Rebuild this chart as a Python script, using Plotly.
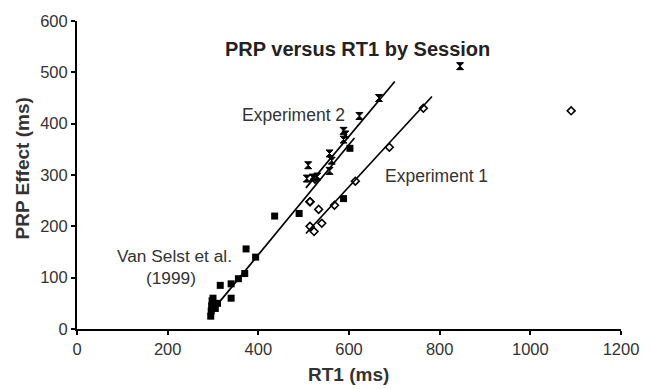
import plotly.graph_objects as go

# Van Selst et al. (1999) sessions (filled squares)
vs_rt1 = [295, 296, 297, 298, 300, 305, 310, 316, 340, 340, 356, 370, 373, 394, 436, 490, 588, 602]
vs_prp = [25, 35, 45, 55, 60, 40, 50, 85, 60, 88, 98, 108, 156, 140, 220, 225, 254, 352]

# Experiment 1 sessions (open diamonds)
e1_rt1 = [514, 523, 514, 540, 533, 514, 568, 525, 614, 689, 764, 1090]
e1_prp = [200, 190, 248, 206, 233, 248, 241, 292, 288, 354, 430, 425]

# Experiment 2 sessions (hourglass markers)
e2_rt1 = [507, 510, 520, 530, 557, 562, 557, 588, 592, 588, 623, 666, 845]
e2_prp = [293, 319, 295, 297, 308, 328, 342, 369, 379, 386, 415, 450, 512]

# regression lines (end points)
vs_fit_x = [293, 612]
vs_fit_y = [30, 372]
e2_fit_x = [505, 701]
e2_fit_y = [275, 482]
e1_fit_x = [505, 783]
e1_fit_y = [186, 453]

x_ticks = [0, 200, 400, 600, 800, 1000, 1200]
y_ticks = [0, 100, 200, 300, 400, 500, 600]

fig = go.Figure()
for fx, fy in [(vs_fit_x, vs_fit_y), (e2_fit_x, e2_fit_y), (e1_fit_x, e1_fit_y)]:
    fig.add_trace(go.Scatter(x=fx, y=fy, mode="lines",
                             line=dict(color="black", width=1.7), showlegend=False))

fig.add_trace(go.Scatter(x=vs_rt1, y=vs_prp, mode="markers",
                         marker=dict(symbol="square", size=7, color="black"), showlegend=False))
fig.add_trace(go.Scatter(x=e1_rt1, y=e1_prp, mode="markers",
                         marker=dict(symbol="diamond-open", size=6, color="black",
                                     line=dict(width=1.6, color="black")), showlegend=False))
fig.add_trace(go.Scatter(x=e2_rt1, y=e2_prp, mode="markers",
                         marker=dict(symbol="hourglass", size=7, color="black",
                                     line=dict(width=1, color="black")), showlegend=False))

font = "Liberation Sans, Arial, sans-serif"
W, H = 651, 389
l, r, t, b = 76.5, 22.5, 16.7, 59.7
pw, ph = W - l - r, H - t - b


def px(x, y):
    return (x - l) / pw, 1 - (y - t) / ph


def ann(text, x, y, size, xanchor="center", angle=0, color="#333333"):
    X, Y = px(x, y)
    return dict(text=text, x=X, y=Y, xref="paper", yref="paper", xanchor=xanchor,
                yanchor="middle", textangle=angle, showarrow=False,
                font=dict(family=font, size=size, color=color))


fig.update_layout(
    width=W, height=H,
    margin=dict(l=l, r=r, t=t, b=b),
    paper_bgcolor="white", plot_bgcolor="white",
    font=dict(family=font, color="#333333", size=12),
    xaxis=dict(range=[0, 1200], tickvals=x_ticks, showgrid=False, zeroline=False,
               showline=True, linecolor="black", linewidth=2,
               ticks="outside", ticklen=4, tickwidth=1.5, tickcolor="black",
               tickfont=dict(size=16.5, color="#333333")),
    yaxis=dict(range=[0, 600], tickvals=y_ticks, showgrid=False, zeroline=False,
               showline=True, linecolor="black", linewidth=2,
               ticks="outside", ticklen=4, tickwidth=1.5, tickcolor="black",
               tickfont=dict(size=16.5, color="#333333")),
    annotations=[
        ann("<b>PRP versus RT1 by Session</b>", 361.5, 45, 20, color="#222222"),
        ann("<b>RT1 (ms)</b>", 352, 375, 19),
        ann("<b>PRP Effect (ms)</b>", 21, 166, 19, angle=-90),
        ann("Experiment 2", 350, 112, 17.5, xanchor="right"),
        ann("Experiment 1", 387, 174, 17.5, xanchor="left"),
        ann("Van Selst et al.", 175, 255, 17.3),
        ann("(1999)", 172, 278, 17.3),
    ],
)

fig.write_html("out.html")
